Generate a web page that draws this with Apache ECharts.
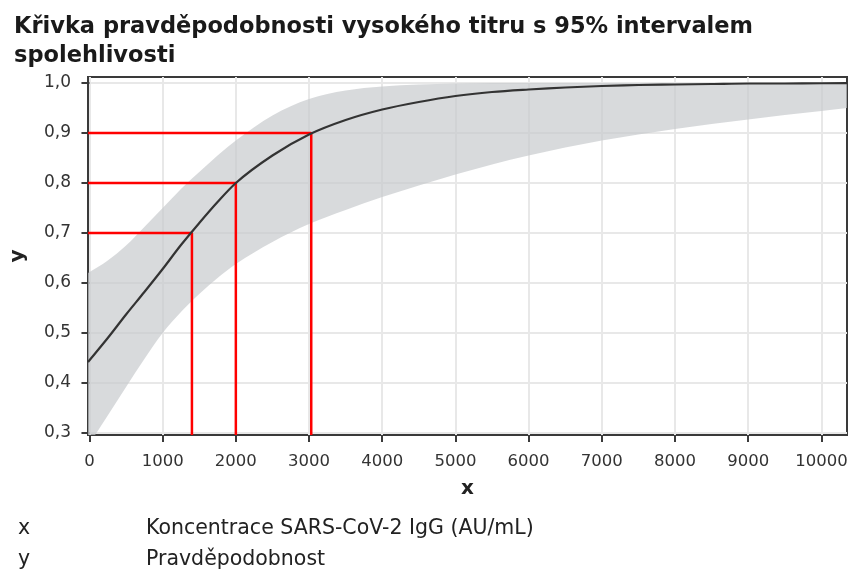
<!DOCTYPE html>
<html>
<head>
<meta charset="utf-8">
<script src="https://cdn.jsdelivr.net/npm/echarts@6/dist/echarts.min.js"></script>
<style>html,body{margin:0;padding:0;background:#fff}#c{width:852px;height:573px}</style>
</head>
<body>
<div id="c"></div>
<script>
// x positions (AU/mL) at which values were read
const xs =      [-20,   250,   500,   750,   1000,  1250,  1500,  1750,  2000,  2500,  3000,  3500,  4000,  4500,  5000,  5500,  6000,  6500,  7000,  7500,  8000,  8500,  9000,  9500,  10000,  10350];
const prob =    [0.442, 0.490, 0.537, 0.582, 0.628, 0.676, 0.720, 0.762, 0.800, 0.855, 0.897, 0.926, 0.947, 0.962, 0.974, 0.982, 0.987, 0.991, 0.994, 0.996, 0.997, 0.998, 0.999, 0.999, 0.9995, 0.9997];
const upper =   [0.620, 0.645, 0.675, 0.712, 0.750, 0.788, 0.822, 0.855, 0.885, 0.935, 0.968, 0.985, 0.993, 0.997, 0.999, 1.000, 1.000, 1.000, 1.000, 1.000, 1.000, 1.000, 1.000, 1.000, 1.000,  1.000];
const lower =   [0.274, 0.335, 0.392, 0.448, 0.500, 0.542, 0.578, 0.610, 0.638, 0.682, 0.718, 0.746, 0.772, 0.795, 0.817, 0.837, 0.855, 0.871, 0.885, 0.897, 0.908, 0.918, 0.927, 0.936, 0.944,  0.950];
// red guide lines: concentration at which probability reaches level
const guideX = [1400, 2000, 3030];
const guideY = [0.7, 0.8, 0.9];
const xTicks = [0, 1000, 2000, 3000, 4000, 5000, 6000, 7000, 8000, 9000, 10000];
const yTicks = [0.3, 0.4, 0.5, 0.6, 0.7, 0.8, 0.9, 1.0];
const titleText = 'Křivka pravděpodobnosti vysokého titru s 95% intervalem\nspolehlivosti';
const legendKeys = ['x', 'y'];
const legendTexts = ['Koncentrace SARS-CoV-2 IgG (AU/mL)', 'Pravděpodobnost'];

const X_MIN = -20, X_MAX = 10350, Y_MIN = 0.296, Y_MAX = 1.012;
const FONT = 'DejaVu Sans';
const axisColor = '#3a3a3a';

// monotone cubic (Fritsch-Carlson) bezier segments through pixel points sorted by x
function monoSegs(p) {
  const n = p.length, d = [], m = [];
  for (let i = 0; i < n - 1; i++) d.push((p[i + 1][1] - p[i][1]) / (p[i + 1][0] - p[i][0]));
  m[0] = d[0]; m[n - 1] = d[n - 2];
  for (let i = 1; i < n - 1; i++) m[i] = (d[i - 1] * d[i] <= 0) ? 0 : (d[i - 1] + d[i]) / 2;
  for (let i = 0; i < n - 1; i++) {
    if (d[i] === 0) { m[i] = 0; m[i + 1] = 0; continue; }
    const a = m[i] / d[i], b = m[i + 1] / d[i], s = a * a + b * b;
    if (s > 9) { const t = 3 / Math.sqrt(s); m[i] = t * a * d[i]; m[i + 1] = t * b * d[i]; }
  }
  const segs = [];
  for (let i = 0; i < n - 1; i++) {
    const h = (p[i + 1][0] - p[i][0]) / 3;
    segs.push([p[i], [p[i][0] + h, p[i][1] + m[i] * h], [p[i + 1][0] - h, p[i + 1][1] - m[i + 1] * h], p[i + 1]]);
  }
  return segs;
}
const f = v => v.toFixed(2);
function pathForward(segs) {
  let s = 'M' + f(segs[0][0][0]) + ' ' + f(segs[0][0][1]);
  segs.forEach(g => { s += ' C' + f(g[1][0]) + ' ' + f(g[1][1]) + ' ' + f(g[2][0]) + ' ' + f(g[2][1]) + ' ' + f(g[3][0]) + ' ' + f(g[3][1]); });
  return s;
}
function pathBackward(segs) {
  let s = '';
  for (let i = segs.length - 1; i >= 0; i--) {
    const g = segs[i];
    s += ' C' + f(g[2][0]) + ' ' + f(g[2][1]) + ' ' + f(g[1][0]) + ' ' + f(g[1][1]) + ' ' + f(g[0][0]) + ' ' + f(g[0][1]);
  }
  return s;
}

const series = [
  {
    type: 'custom', clip: true, silent: true, z: 1,
    data: [[X_MIN, Y_MIN]],
    renderItem: (params, api) => {
      const up = xs.map((x, i) => api.coord([x, upper[i]]));
      const lo = xs.map((x, i) => api.coord([x, lower[i]]));
      const lsegs = monoSegs(lo);
      const d = pathForward(monoSegs(up)) + ' L' + f(lo[lo.length - 1][0]) + ' ' + f(lo[lo.length - 1][1]) + pathBackward(lsegs) + ' Z';
      return { type: 'path', shape: { pathData: d }, style: { fill: 'rgba(200,202,205,0.7)', stroke: null } };
    }
  }
];
guideX.forEach((gx, i) => {
  series.push({
    type: 'line', data: [[X_MIN, guideY[i]], [gx, guideY[i]], [gx, Y_MIN]],
    showSymbol: false, lineStyle: { color: '#ff0000', width: 2.5 }, z: 3, silent: true
  });
});
series.push({
  type: 'custom', clip: true, silent: true, z: 4,
  data: [[X_MIN, Y_MIN]],
  renderItem: (params, api) => {
    const pts = xs.map((x, i) => api.coord([x, prob[i]]));
    return { type: 'path', shape: { pathData: pathForward(monoSegs(pts)) }, style: { fill: null, stroke: '#333333', lineWidth: 2.2 } };
  }
});

const titles = [{
  text: titleText, left: 9, top: 8,
  textStyle: { fontFamily: FONT, fontWeight: 'bold', fontSize: 22.5, lineHeight: 29, color: '#1a1a1a' }
}];
legendKeys.forEach((k, i) => {
  titles.push({ text: k, left: 13, top: 513 + i * 31,
    textStyle: { fontFamily: FONT, fontWeight: 'normal', fontSize: 20.5, color: '#222' } });
  titles.push({ text: legendTexts[i], left: 141, top: 513 + i * 31,
    textStyle: { fontFamily: FONT, fontWeight: 'normal', fontSize: 20.5, color: '#222' } });
});

const chart = echarts.init(document.getElementById('c'), null, { renderer: 'canvas' });
chart.setOption({
  animation: false,
  backgroundColor: '#ffffff',
  title: titles,
  grid: { left: 86, right: 5, top: 77, bottom: 138, show: true, borderColor: axisColor, borderWidth: 2, backgroundColor: 'transparent' },
  xAxis: {
    type: 'value', min: X_MIN, max: X_MAX,
    name: 'x', nameLocation: 'middle', nameGap: 44,
    nameTextStyle: { fontFamily: FONT, fontWeight: 'bold', fontSize: 20, color: '#222' },
    axisLine: { show: false },
    axisTick: { show: true, length: 7, lineStyle: { color: axisColor, width: 2 }, customValues: xTicks },
    axisLabel: { customValues: xTicks, fontFamily: FONT, fontSize: 16.5, color: '#333', margin: 18, formatter: v => String(v) },
    splitLine: { show: true, lineStyle: { color: '#e8e8e8', width: 2 } }
  },
  yAxis: {
    type: 'value', min: Y_MIN, max: Y_MAX,
    name: 'y', nameLocation: 'middle', nameGap: 60, nameRotate: 90,
    nameTextStyle: { fontFamily: FONT, fontWeight: 'bold', fontSize: 20, color: '#222' },
    axisLine: { show: false },
    axisTick: { show: true, length: 8, lineStyle: { color: axisColor, width: 2 }, customValues: yTicks },
    axisLabel: { customValues: yTicks, fontFamily: FONT, fontSize: 17, color: '#333', margin: 17,
      formatter: v => v.toFixed(1).replace('.', ',') },
    splitLine: { show: true, lineStyle: { color: '#e8e8e8', width: 2 } }
  },
  series: series
});
</script>
</body>
</html>
